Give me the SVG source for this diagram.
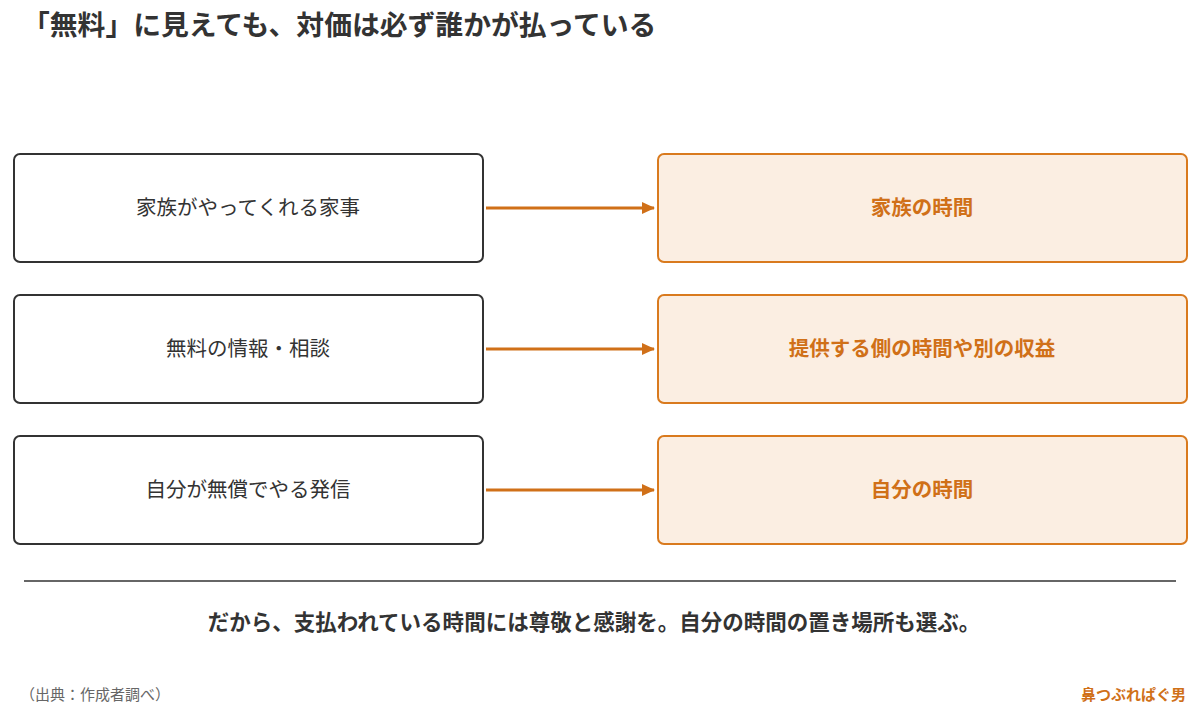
<svg xmlns="http://www.w3.org/2000/svg" width="1200" height="717" viewBox="0 0 1200 717">
<style>
text{font-family:"Noto Sans CJK JP","Noto Sans",sans-serif}
.l{fill:#fff;stroke:#333;stroke-width:2}
.r{fill:#fbeee2;stroke:#d97a1e;stroke-width:2}
.lt{font-size:20.5px;fill:#333;text-anchor:middle}
.rt{font-size:20.5px;fill:#d07018;font-weight:bold;text-anchor:middle}
.c{stroke:#d07018;stroke-width:3;fill:none}
</style>
<defs><marker id="a" markerWidth="14" markerHeight="14" refX="12" refY="7" orient="auto" markerUnits="userSpaceOnUse"><path d="M0,1 L13,7 L0,13 z" fill="#d07018"/></marker></defs>
<rect width="1200" height="717" fill="#fff"/>
<text x="22" y="35" font-size="27.8" font-weight="bold" fill="#333">「無料」に見えても、対価は必ず誰かが払っている</text>
<g id="n1"><rect class="l" x="14" y="154" width="469" height="108" rx="6"/><text class="lt" x="248" y="215">家族がやってくれる家事</text></g>
<g id="n2"><rect class="l" x="14" y="295" width="469" height="108" rx="6"/><text class="lt" x="248" y="356">無料の情報・相談</text></g>
<g id="n3"><rect class="l" x="14" y="436" width="469" height="108" rx="6"/><text class="lt" x="248" y="497">自分が無償でやる発信</text></g>
<g id="m1"><rect class="r" x="658" y="154" width="529" height="108" rx="6"/><text class="rt" x="922" y="215">家族の時間</text></g>
<g id="m2"><rect class="r" x="658" y="295" width="529" height="108" rx="6"/><text class="rt" x="922" y="356">提供する側の時間や別の収益</text></g>
<g id="m3"><rect class="r" x="658" y="436" width="529" height="108" rx="6"/><text class="rt" x="922" y="497">自分の時間</text></g>
<g id="connectors">
<line class="c" x1="486" y1="208" x2="654" y2="208" marker-end="url(#a)"/>
<line class="c" x1="486" y1="349" x2="654" y2="349" marker-end="url(#a)"/>
<line class="c" x1="486" y1="490" x2="654" y2="490" marker-end="url(#a)"/>
</g>
<line x1="24" y1="581" x2="1176" y2="581" stroke="#333" stroke-width="1.5"/>
<text x="594" y="630" font-size="21.5" font-weight="bold" fill="#333" text-anchor="middle">だから、支払われている時間には尊敬と感謝を。自分の時間の置き場所も選ぶ。</text>
<text x="20" y="700" font-size="15" fill="#666">（出典：作成者調べ）</text>
<text x="1186" y="700" font-size="15" font-weight="bold" fill="#d07018" text-anchor="end">鼻つぶれぱぐ男</text>
</svg>
